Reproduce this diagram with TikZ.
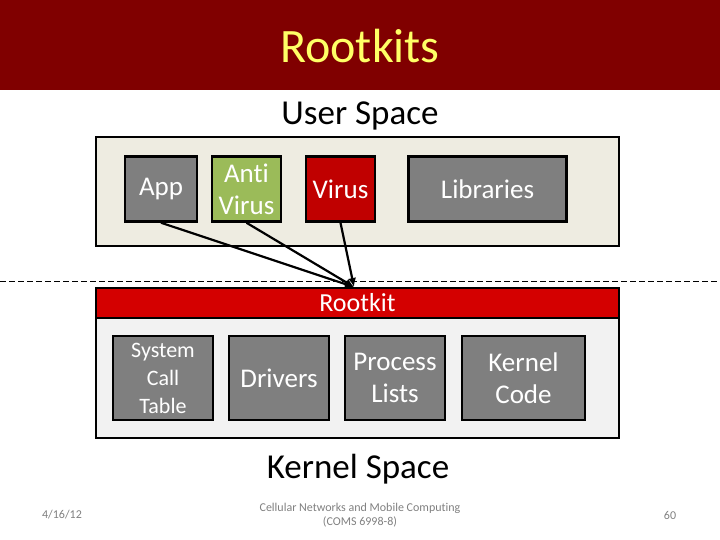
\documentclass[tikz,border=0pt]{standalone}
\usepackage{fontspec}
\setmainfont{Carlito}[Ligatures=NoCommon]
\usetikzlibrary{arrows.meta}
\definecolor{headred}{HTML}{800000}
\definecolor{rootred}{HTML}{D40000}
\definecolor{virusred}{HTML}{C00000}
\definecolor{antigreen}{HTML}{9BBB59}
\definecolor{boxgray}{HTML}{7F7F7F}
\definecolor{userbg}{HTML}{EEECE1}
\definecolor{kernbg}{HTML}{F2F2F2}
\tikzset{
    part/.style={draw=black, line width=2.5pt, fill=boxgray, text=white, align=center,
        inner sep=0pt, font=\fontsize{27}{32}\selectfont},
    area/.style={draw=black, line width=2.5pt, inner sep=0pt},
    hook/.style={line width=2.2pt, -{Latex[length=9pt,width=8pt]}}
}
\begin{document}
\begin{tikzpicture}[x=1pt, y=-1pt]
    \useasboundingbox (0,0) rectangle (720,540);
    % Title bar
    \fill[headred] (0,0) rectangle (720,90);
    \node (title) at (360,46) {\fontsize{48}{52}\selectfont\color[HTML]{FFFF66}Rootkits};
    % User space
    \node (user) at (360,116) {\fontsize{35}{40}\selectfont User Space};
    \node[area, fill=userbg, minimum width=523pt, minimum height=109pt] (ubox) at (357.5,191.5) {};
    \node[part, minimum width=72pt, minimum height=65pt] (app) at (161,189) {App};
    \node[part, fill=antigreen, minimum width=69pt, minimum height=65pt] (anti) at (246.5,189) {Anti\\Virus};
    \node[part, fill=virusred, minimum width=69pt, minimum height=65pt] (virus) at (340.5,189) {Virus};
    \node[part, minimum width=158pt, minimum height=65pt] (libs) at (487.5,189) {Libraries};
    % Boundary
    \draw[line width=1pt, dash pattern=on 6pt off 3pt] (0,281) -- (720,281);
    % Kernel space
    \node[area, fill=kernbg, minimum width=523pt, minimum height=150pt] (kbox) at (357.5,363) {};
    \node[area, fill=rootred, text=white, minimum width=523pt, minimum height=30pt,
        font=\fontsize{26}{30}\selectfont] (rootkit) at (357.5,303) {Rootkit};
    \node[part, minimum width=100pt, minimum height=84pt, font=\fontsize{22}{28}\selectfont] (sct) at (163,378) {System\\Call\\Table};
    \node[part, minimum width=100pt, minimum height=84pt] (drv) at (279,378) {Drivers};
    \node[part, minimum width=100pt, minimum height=84pt] (proc) at (395,378) {Process\\Lists};
    \node[part, minimum width=123pt, minimum height=84pt] (kcode) at (523.5,378) {Kernel\\Code};
    \node (kern) at (358,469) {\fontsize{35}{40}\selectfont Kernel Space};
    % Hooks into the kernel
    \coordinate (hit) at (354,287);
    \draw[hook] (app.south) -- (hit);
    \draw[hook] (anti.south) -- (hit);
    \draw[hook] (virus.south) -- (hit);
    % Footer
    \node[text=gray, font=\fontsize{12}{14}\selectfont] (date) at (62,515) {4/16/12};
    \node[text=gray, align=center, font=\fontsize{12}{14}\selectfont] (course) at (360,515) {Cellular Networks and Mobile Computing\\(COMS 6998-8)};
    \node[text=gray, font=\fontsize{12}{14}\selectfont] (page) at (670,515) {60};
\end{tikzpicture}
\end{document}
